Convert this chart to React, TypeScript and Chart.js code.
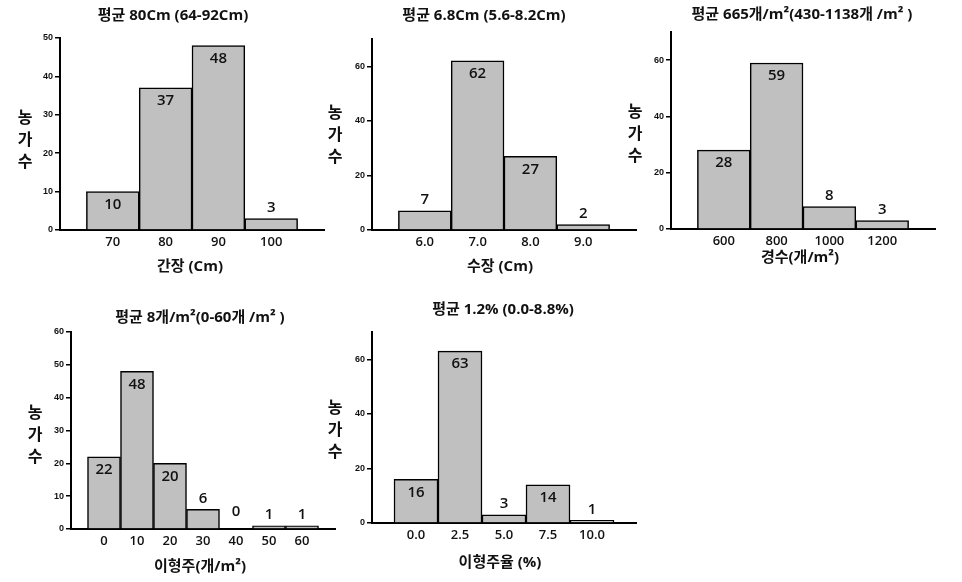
import React, { useEffect, useRef } from 'react';
import { Chart, registerables } from 'chart.js';

Chart.register(...registerables);

// ---- data ----
const lengthBins = [70, 80, 90, 100];
const lengthCounts = [10, 37, 48, 3];

const panicleBins = [6, 7, 8, 9];
const panicleCounts = [7, 62, 27, 2];

const stemBins = [600, 800, 1000, 1200];
const stemCounts = [28, 59, 8, 3];

const offtypeBins = [0, 10, 20, 30, 40, 50, 60];
const offtypeCounts = [22, 48, 20, 6, 0, 1, 1];

const offRateBins = [0, 2.5, 5, 7.5, 10];
const offRateCounts = [16, 63, 3, 14, 1];

const yLabelChars = ['농', '가', '수'];

const titles = [
  '평균 80Cm (64-92Cm)',
  '평균 6.8Cm (5.6-8.2Cm)',
  '평균 665개/m²(430-1138개 /m² )',
  '평균 8개/m²(0-60개 /m² )',
  '평균 1.2% (0.0-8.8%)',
];
const xTitles = ['간장 (Cm)', '수장 (Cm)', '경수(개/m²)', '이형주(개/m²)', '이형주율 (%)'];

// ---- layout / style config ----
type Spec = {
  bins: number[];
  counts: number[];
  xMin: number;
  xMax: number;
  xStep: number;
  digits: number;
  yMax: number;
  yStep: number;
  title: string;
  xTitle: string;
  canvas: [number, number, number, number];
  plot: [number, number, number, number];
  titlePos: [number, number];
  yLabel: [number, number];
  xTitlePos: [number, number];
};

const specs: Spec[] = [
  {
    bins: lengthBins, counts: lengthCounts, xMin: 60, xMax: 110, xStep: 10, digits: 0,
    yMax: 50, yStep: 10, title: titles[0], xTitle: xTitles[0],
    canvas: [0, 0, 340, 290], plot: [60, 38, 324, 230],
    titlePos: [173, 16], yLabel: [25, 118], xTitlePos: [190, 267],
  },
  {
    bins: panicleBins, counts: panicleCounts, xMin: 5, xMax: 10, xStep: 1, digits: 1,
    yMax: 70, yStep: 20, title: titles[1], xTitle: xTitles[1],
    canvas: [310, 0, 330, 290], plot: [372, 39, 636, 230],
    titlePos: [484, 16], yLabel: [335, 113], xTitlePos: [500, 267],
  },
  {
    bins: stemBins, counts: stemCounts, xMin: 400, xMax: 1400, xStep: 200, digits: 0,
    yMax: 70, yStep: 20, title: titles[2], xTitle: xTitles[2],
    canvas: [620, 0, 342, 290], plot: [671, 32, 935, 229],
    titlePos: [802, 15], yLabel: [635, 112], xTitlePos: [800, 258],
  },
  {
    bins: offtypeBins, counts: offtypeCounts, xMin: -10, xMax: 70, xStep: 10, digits: 0,
    yMax: 60, yStep: 10, title: titles[3], xTitle: xTitles[3],
    canvas: [0, 290, 340, 292], plot: [71, 332, 335, 529],
    titlePos: [200, 318], yLabel: [35, 413], xTitlePos: [200, 567],
  },
  {
    bins: offRateBins, counts: offRateCounts, xMin: -2.5, xMax: 12.5, xStep: 2.5, digits: 1,
    yMax: 70, yStep: 20, title: titles[4], xTitle: xTitles[4],
    canvas: [310, 290, 340, 292], plot: [372, 332, 636, 523],
    titlePos: [503, 310], yLabel: [335, 408], xTitlePos: [500, 563],
  },
];

const Y_W = 40;
const X_H = 40;
const KFONT = '"Open Sans", "Noto Sans CJK KR", sans-serif';

function HistChart({ spec }: { spec: Spec }) {
  const ref = useRef<HTMLCanvasElement | null>(null);
  useEffect(() => {
    if (!ref.current) return;
    const [cx, cy, cw, ch] = spec.canvas;
    const [L, T, R, B] = spec.plot;

    const annot = {
      id: 'annot',
      afterDraw(chart: any) {
        const ctx = chart.ctx as CanvasRenderingContext2D;
        ctx.save();
        ctx.fillStyle = '#111';
        ctx.textAlign = 'center';
        ctx.textBaseline = 'middle';
        // title
        ctx.font = `bold 15px ${KFONT}`;
        ctx.fillText(spec.title, spec.titlePos[0] - cx, spec.titlePos[1] - cy);
        // y label (upright stacked)
        ctx.font = `bold 16px ${KFONT}`;
        yLabelChars.forEach((c, i) => {
          ctx.fillText(c, spec.yLabel[0] - cx, spec.yLabel[1] - cy + i * 22);
        });
        // x title
        ctx.font = `bold 15px ${KFONT}`;
        ctx.fillText(spec.xTitle, spec.xTitlePos[0] - cx, spec.xTitlePos[1] - cy);
        // value labels
        ctx.font = `600 15px ${KFONT}`;
        const meta = chart.getDatasetMeta(0);
        meta.data.forEach((el: any, i: number) => {
          const v = spec.counts[i];
          const h = el.base - el.y;
          let y: number;
          if (h > 30) y = el.y + 13;
          else if (v === 0) y = el.y - 17;
          else y = el.y - 11;
          ctx.fillText(String(v), el.x, y);
        });
        ctx.restore();
      },
    };

    const chart = new Chart(ref.current, {
      type: 'bar',
      data: {
        datasets: [
          {
            data: spec.bins.map((b, i) => ({ x: b, y: spec.counts[i] })),
            backgroundColor: '#c0c0c0',
            borderColor: '#000',
            borderWidth: 1.5,
            barPercentage: 1,
            categoryPercentage: 1,
          },
        ],
      },
      options: {
        animation: false,
        responsive: false,
        events: [],
        layout: {
          padding: {
            left: L - cx - Y_W,
            top: T - cy,
            right: cx + cw - R,
            bottom: cy + ch - B - X_H,
          },
        },
        plugins: {
          legend: { display: false },
          title: { display: false },
          tooltip: { enabled: false },
        },
        scales: {
          x: {
            type: 'linear',
            min: spec.xMin,
            max: spec.xMax,
            offset: false,
            grid: { display: false, drawTicks: false },
            border: { display: true, color: '#000', width: 2 },
            ticks: {
              stepSize: spec.xStep,
              autoSkip: false,
              maxRotation: 0,
              padding: 4,
              color: '#111',
              font: { family: KFONT, size: 13, weight: '600' },
              callback: (value: any) => {
                const v = Number(value);
                if (v <= spec.xMin + 1e-9 || v >= spec.xMax - 1e-9) return '';
                return v.toFixed(spec.digits);
              },
            },
            afterFit: (scale: any) => {
              scale.height = X_H;
            },
          },
          y: {
            type: 'linear',
            min: 0,
            max: spec.yMax,
            grid: {
              display: true,
              drawOnChartArea: false,
              drawTicks: true,
              tickLength: 5,
              lineWidth: 1.5,
              tickColor: (c: any) =>
                c.tick && Math.abs(c.tick.value % spec.yStep) > 1e-9 ? 'rgba(0,0,0,0)' : '#000',
            },
            border: { display: true, color: '#000', width: 2 },
            ticks: {
              stepSize: spec.yStep,
              padding: 2,
              color: '#111',
              font: { family: '"Liberation Sans", Arial, sans-serif', size: 9, weight: 'bold' },
              callback: (value: any) => {
                const v = Number(value);
                return Math.abs(v % spec.yStep) > 1e-9 ? '' : String(v);
              },
            },
            afterFit: (scale: any) => {
              scale.width = Y_W;
            },
          },
        },
      },
      plugins: [annot],
    } as any);
    return () => chart.destroy();
  }, [spec]);

  const [cx, cy, cw, ch] = spec.canvas;
  return (
    <canvas
      ref={ref}
      width={cw}
      height={ch}
      style={{ position: 'absolute', left: cx, top: cy, width: cw, height: ch }}
    />
  );
}

export default function App() {
  return (
    <div
      style={{
        position: 'absolute',
        left: 0,
        top: 0,
        width: 962,
        height: 582,
        background: '#fff',
        overflow: 'hidden',
      }}
    >
      {specs.map((s, i) => (
        <HistChart key={i} spec={s} />
      ))}
    </div>
  );
}
